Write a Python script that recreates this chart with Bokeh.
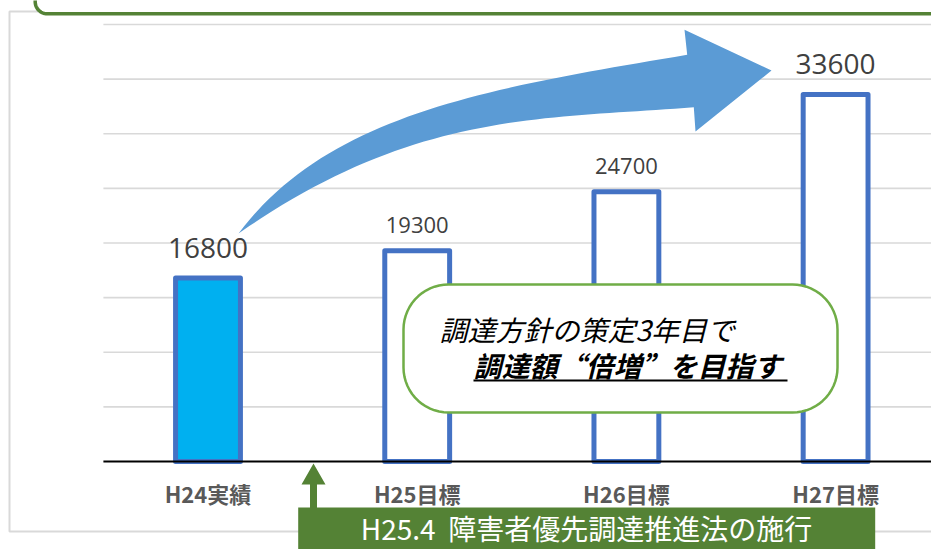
import numpy as np
from bokeh.plotting import figure
from bokeh.models import Range1d, ColumnDataSource
from bokeh.core.properties import value
from bokeh.embed import file_html
from bokeh.resources import INLINE

# ---------------- data ----------------
categories = ["H24実績", "H25目標", "H26目標", "H27目標"]
amounts = [16800, 19300, 24700, 33600]
grid_values = [5000, 10000, 15000, 20000, 25000, 30000, 35000, 40000]
law_note = "H25.4 \u00a0障害者優先調達推進法の施行"
callout_line1 = "調達方針の策定3年目で"
callout_line2 = "調達額“倍増”を目指す"

# ---------------- layout helpers (picture pixel -> data) ----------------
W, H = 931, 549
X0, XS = 102.9, 209.2          # x pixel of category origin, px per category
Y0, YS = 461.0, 437.0 / 40000  # y pixel of value 0, px per unit


def dx(px):
    return ((np.asarray(px, float) - X0) / XS).tolist()


def dy(py):
    return ((Y0 - np.asarray(py, float)) / YS).tolist()


def cubic(p0, p1, p2, p3, n=48):
    t = np.linspace(0, 1, n)[:, None]
    p0, p1, p2, p3 = (np.array(q, float) for q in (p0, p1, p2, p3))
    return (1 - t) ** 3 * p0 + 3 * (1 - t) ** 2 * t * p1 + 3 * (1 - t) * t ** 2 * p2 + t ** 3 * p3


def rrect(l, t, r, b, rad, n=16):
    xs, ys = [], []
    for cx, cy, a0 in [(l + rad, t + rad, np.pi), (r - rad, t + rad, 1.5 * np.pi),
                       (r - rad, b - rad, 0.0), (l + rad, b - rad, 0.5 * np.pi)]:
        a = np.linspace(a0, a0 + np.pi / 2, n)
        xs += list(cx + rad * np.cos(a))
        ys += list(cy + rad * np.sin(a))
    return dx(xs), dy(ys)


p = figure(width=W, height=H,
           x_range=Range1d(dx(0), dx(W)), y_range=Range1d(dy(H), dy(0)),
           x_axis_type=None, y_axis_type=None,
           output_backend="svg", toolbar_location=None, title=None,
           min_border=0)
p.outline_line_color = None
p.background_fill_color = "white"
p.border_fill_color = "white"
p.xgrid.visible = False
p.ygrid.visible = False

xc = [i + 0.5 for i in range(len(categories))]

# outer chart-area border
p.quad(left=dx(9), right=dx(990), top=dy(11), bottom=dy(531),
       fill_color=None, line_color="#d9d9d9", line_width=2)

# horizontal gridlines
p.segment(x0=[0.0] * len(grid_values), x1=[dx(990)] * len(grid_values),
          y0=grid_values, y1=grid_values, line_color="#d9d9d9", line_width=1.6)

# bars
fills = ["#00B0F0"] + ["white"] * (len(categories) - 1)
src = ColumnDataSource(dict(x=xc, top=amounts, fill=fills))
p.vbar(x="x", top="top", bottom=0, width=0.31, source=src,
       fill_color="fill", line_color="#4472C4", line_width=5, line_join="round")

# baseline
p.segment(x0=[0.0], x1=[dx(990)], y0=[0], y1=[0], line_color="black", line_width=2)

# data labels (first and last larger)
big = [0, 3]
small = [1, 2]
p.text(x=[xc[i] for i in big], y=[amounts[i] for i in big],
       text=[str(amounts[i]) for i in big], text_align="center",
       text_baseline="alphabetic", y_offset=-30,
       text_font=value("Open Sans"), text_font_size="28px", text_color="#404040")
p.text(x=[xc[i] for i in small], y=[amounts[i] for i in small],
       text=[str(amounts[i]) for i in small], text_align="center",
       text_baseline="alphabetic", y_offset=-26,
       text_font=value("Open Sans"), text_font_size="22px", text_color="#404040")

# category labels
p.text(x=xc, y=[0] * len(categories), text=categories, text_align="center",
       text_baseline="alphabetic", y_offset=31,
       text_font=value("Noto Sans CJK JP"), text_font_style="bold",
       text_font_size="22px", text_color="#595959")

# big curved arrow
upper = cubic((238, 233), (328, 113), (489.5, 87.5), (686.7, 54.3))
lower = cubic((238, 233), (414, 110), (543.3, 118.9), (693.3, 106.7))
head = np.array([(684, 29.3), (771, 70), (695, 131)], float)
poly = np.vstack([upper, head, lower[::-1][:-1]])
p.patch(x=dx(poly[:, 0]), y=dy(poly[:, 1]), fill_color="#5B9BD5", line_color=None)

# callout (pill)
cx_, cy_ = rrect(403, 284, 837, 412, 45)
p.patch(x=cx_, y=cy_, fill_color="white", line_color="#70AD47", line_width=2.5)
p.text(x=dx([439]), y=dy([328.5]), text=[callout_line1], text_align="left",
       text_baseline="alphabetic", text_font=value("Noto Sans CJK JP"),
       text_font_style="italic", text_font_size="28px", text_color="black")
p.text(x=dx([473]), y=dy([364]), text=[callout_line2], text_align="left",
       text_baseline="alphabetic", text_font=value("Noto Sans CJK SC"),
       text_font_style="bold italic", text_font_size="28px", text_color="black")
p.segment(x0=dx([473]), x1=dx([787]), y0=dy([380]), y1=dy([380]),
          line_color="black", line_width=2)

# top green box (cut by picture edge)
tx, ty = rrect(34.7, -40, 1000, 13.3, 12)
p.patch(x=tx, y=ty, fill_color="white", line_color="#548235", line_width=3.5)

# bottom law note box and small arrow
p.quad(left=dx(297.7), right=dx(874.7), top=dy(507), bottom=dy(580),
       fill_color="#548235", line_color=None)
arrow2 = np.array([(309.5, 507.5), (309.5, 484), (301, 484), (313, 463),
                   (325, 484), (316.5, 484), (316.5, 507.5)], float)
p.patch(x=dx(arrow2[:, 0]), y=dy(arrow2[:, 1]), fill_color="#548235", line_color=None)
p.text(x=dx([586]), y=dy([527]), text=[law_note], text_align="center",
       text_baseline="alphabetic", text_font=value("Noto Sans CJK JP"),
       text_font_size="28px", text_color="white")

open("out.html", "w").write(file_html(p, INLINE))
